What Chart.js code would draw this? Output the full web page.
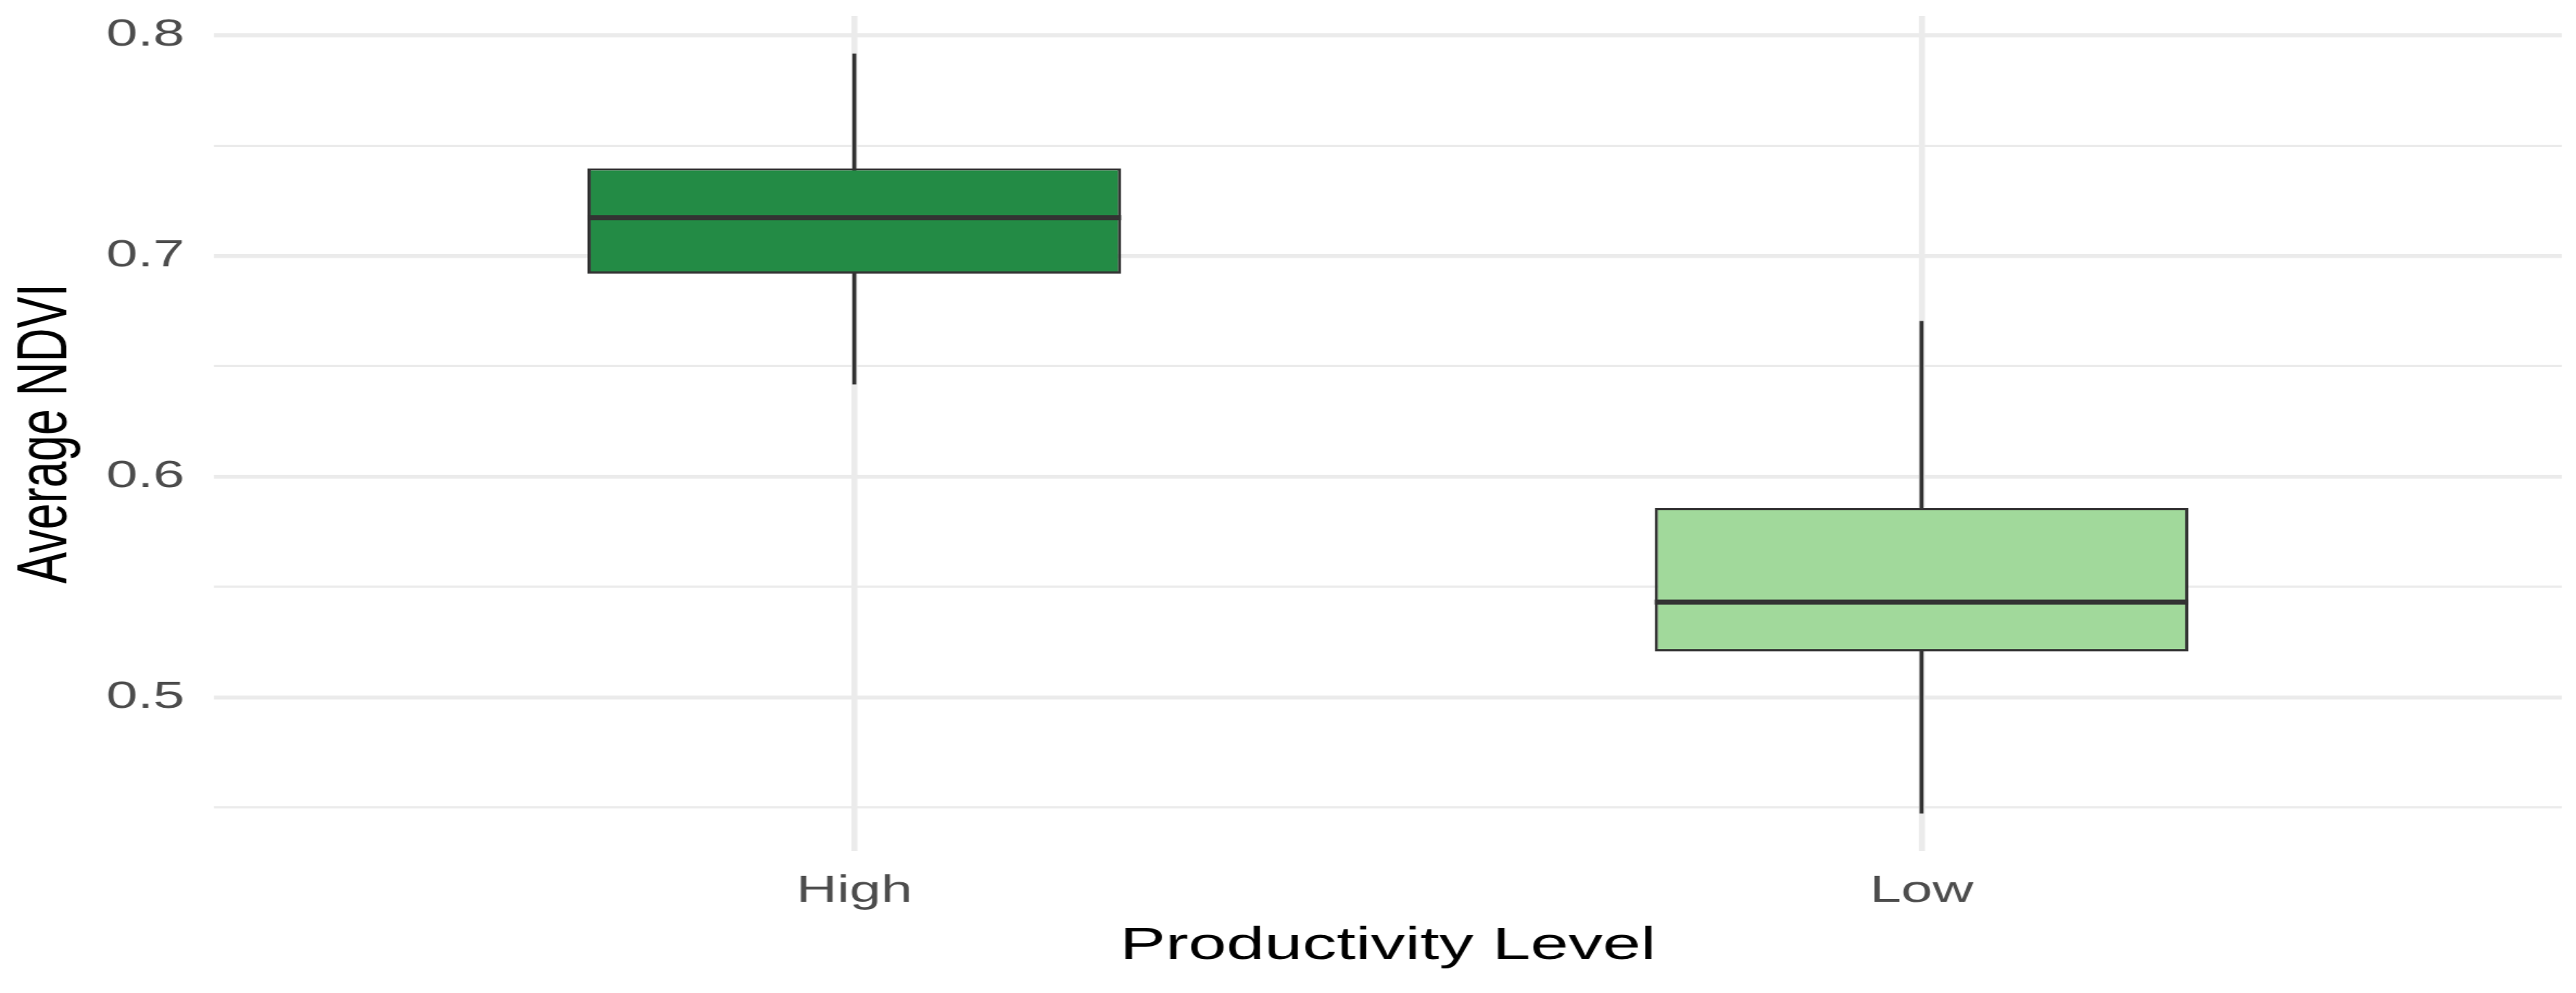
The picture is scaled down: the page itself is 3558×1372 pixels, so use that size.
<!DOCTYPE html>
<html>
<head>
<meta charset="utf-8">
<script src="https://cdn.jsdelivr.net/npm/chart.js@4.4.1/dist/chart.umd.min.js"></script>
<style>
  html, body { margin: 0; padding: 0; background: #fff; overflow: hidden; }
  /* the reference image is stretched sideways, so draw narrow and stretch */
  #wrap { width: 2372px; height: 1372px; transform: scaleX(1.5); transform-origin: 0 0; }
</style>
</head>
<body>
<div id="wrap"><canvas id="ndviChart" width="2372" height="1372"></canvas></div>
<script>
// Box plot data
const categories = ['High', 'Low'];
const whiskerLow = [0.6418, 0.4475];
const q1 = [0.6920, 0.5208];
const median = [0.7173, 0.5431];
const q3 = [0.7397, 0.5857];
const whiskerHigh = [0.7915, 0.6704];
const fills = ['#238b45', '#a1d99b'];

// y grid: labelled ticks plus the minor lines between them
const yTickLabels = ['0.5', '0.6', '0.7', '0.8'];
const yGridValues = [0.45, 0.5, 0.55, 0.6, 0.65, 0.7, 0.75, 0.8];

// ggplot style 5% expansion around the data
const lo = Math.min(...whiskerLow);
const hi = Math.max(...whiskerHigh);
const pad = (hi - lo) * 0.05;

const isMajor = v => yTickLabels.some(t => Math.abs(parseFloat(t) - v) < 1e-6);

// median bar drawn on top of each box
const medianLines = {
  id: 'medianLines',
  afterDatasetsDraw(chart) {
    const meta = chart.getDatasetMeta(0);
    const yScale = chart.scales.y;
    const ctx = chart.ctx;
    ctx.save();
    ctx.fillStyle = '#333333';
    meta.data.forEach((bar, i) => {
      const { x, width } = bar.getProps(['x', 'width'], true);
      const py = yScale.getPixelForValue(median[i]);
      ctx.fillRect(x - width / 2, py - 3.5, width, 7);
    });
    ctx.restore();
  }
};

const ctx = document.getElementById('ndviChart').getContext('2d');
const ndviChart = new Chart(ctx, {
  type: 'bar',
  data: {
    datasets: [
      {
        label: 'box',
        data: categories.map((c, i) => ({ x: i + 1, y: [q1[i], q3[i]] })),
        backgroundColor: fills,
        borderColor: '#333333',
        borderWidth: 3,
        borderSkipped: false,
        barPercentage: 0.5,
        categoryPercentage: 1,
        grouped: false,
        order: 0
      },
      {
        label: 'whisker',
        data: categories.map((c, i) => ({ x: i + 1, y: [whiskerLow[i], whiskerHigh[i]] })),
        backgroundColor: '#333333',
        borderWidth: 0,
        barThickness: 3,
        grouped: false,
        order: 1
      }
    ]
  },
  plugins: [medianLines],
  options: {
    responsive: false,
    animation: false,
    layout: { padding: { top: 22, right: 13, left: 0, bottom: 0 } },
    plugins: {
      legend: { display: false },
      tooltip: { enabled: false }
    },
    scales: {
      x: {
        type: 'linear',
        min: 0.4,
        max: 2.6,
        offset: false,
        afterBuildTicks: s => { s.ticks = categories.map((c, i) => ({ value: i + 1 })); },
        afterFit: s => { s.height = 196; s.paddingLeft = 0; s.paddingRight = 0; },
        border: { display: false },
        grid: { color: '#ebebeb', lineWidth: 5.5, drawTicks: false, offset: false },
        ticks: {
          padding: 24,
          color: '#4d4d4d',
          font: { family: 'Liberation Sans', size: 52 },
          callback: v => categories[Math.round(v) - 1]
        },
        title: {
          display: true,
          text: 'Productivity Level',
          color: '#000',
          font: { family: 'Liberation Sans', size: 63 },
          padding: { top: 0, bottom: 27 }
        }
      },
      y: {
        min: lo - pad,
        max: hi + pad,
        afterBuildTicks: s => { s.ticks = yGridValues.map(v => ({ value: v })); },
        afterFit: s => { s.width = 197; s.paddingTop = 0; s.paddingBottom = 0; },
        border: { display: false },
        grid: {
          color: '#ebebeb',
          drawTicks: false,
          lineWidth: c => (c.tick && isMajor(c.tick.value)) ? 5.5 : 3
        },
        ticks: {
          padding: 27,
          color: '#4d4d4d',
          font: { family: 'Liberation Sans', size: 52 },
          callback: v => isMajor(v) ? v.toFixed(1) : ''
        },
        title: {
          display: true,
          text: 'Average NDVI',
          color: '#000',
          font: { family: 'Liberation Sans', size: 65 },
          padding: { top: 4, bottom: 0 }
        }
      }
    }
  }
});
</script>
</body>
</html>
